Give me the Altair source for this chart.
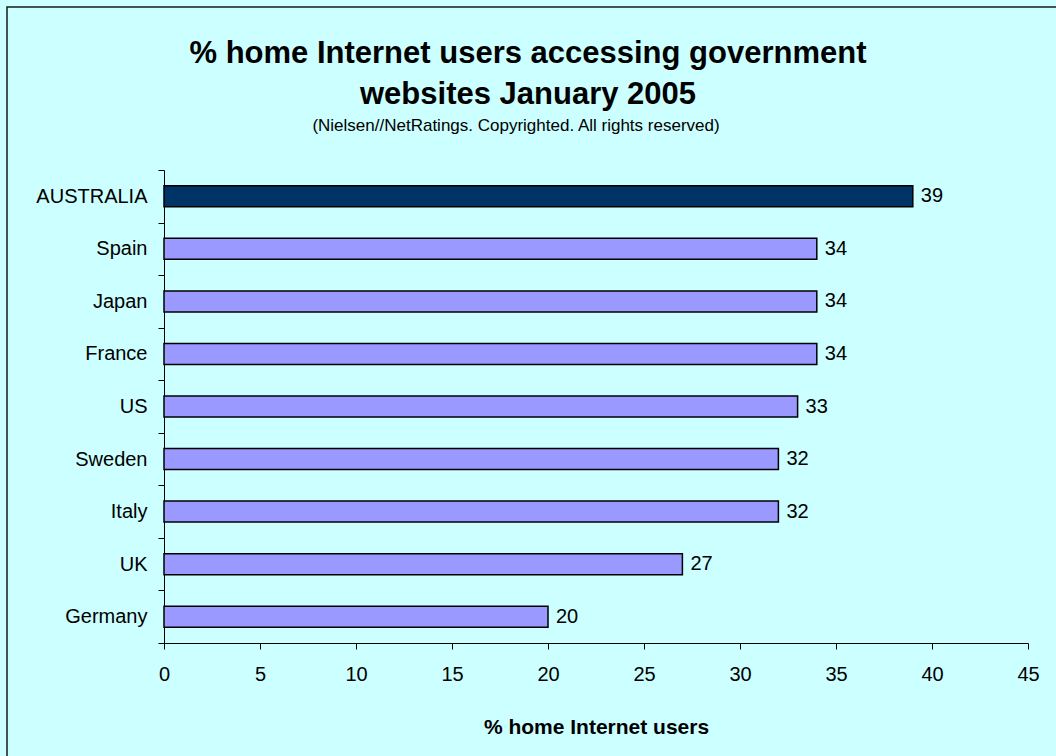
import altair as alt
import pandas as pd

# Share of home Internet users visiting government websites, January 2005
countries = ["AUSTRALIA", "Spain", "Japan", "France", "US", "Sweden", "Italy", "UK", "Germany"]
shares = [39, 34, 34, 34, 33, 32, 32, 27, 20]
x_ticks = [0, 5, 10, 15, 20, 25, 30, 35, 40, 45]

title_lines = ["% home Internet users accessing government", "websites January 2005"]
subtitle_text = "(Nielsen//NetRatings. Copyrighted. All rights reserved)"
x_title = "% home Internet users"

df = pd.DataFrame({"country": countries, "share": shares})

FONT = "Liberation Sans"
W, H = 864, 473
PAD_L, PAD_T = 164, 170
CENTER_X = 528 - PAD_L  # chart-wide centre, in plot coordinates

y_enc = alt.Y(
    "country:N",
    sort=countries,
    title=None,
    scale=alt.Scale(paddingInner=0, paddingOuter=0),
    axis=alt.Axis(
        tickBand="extent",
        tickSize=6,
        labelPadding=11,
        labelFontSize=20,
        labelFont=FONT,
        labelColor="#000000",
        domainColor="#000000",
        tickColor="#000000",
        grid=False,
    ),
)
x_enc = alt.X(
    "share:Q",
    title=x_title,
    scale=alt.Scale(domain=[0, 45], nice=False),
    axis=alt.Axis(
        values=x_ticks,
        tickSize=6,
        labelPadding=15,
        labelFlush=False,
        labelOverlap=False,
        labelFontSize=20,
        labelFont=FONT,
        labelColor="#000000",
        domainColor="#000000",
        tickColor="#000000",
        grid=False,
        titleFont=FONT,
        titleFontSize=21,
        titleFontWeight="bold",
        titleColor="#000000",
        titlePadding=32,
    ),
)

bars = alt.Chart(df).mark_bar(
    stroke="#000000", strokeWidth=1.5, height=alt.RelativeBandSize(0.4)
).encode(
    x=x_enc,
    y=y_enc,
    color=alt.condition(
        alt.datum.country == "AUSTRALIA", alt.value("#003366"), alt.value("#9999FF")
    ),
)

labels = alt.Chart(df).mark_text(
    align="left", baseline="middle", dx=8, fontSize=20, font=FONT, color="#000000"
).encode(
    x="share:Q",
    y=alt.Y("country:N", sort=countries),
    text="share:Q",
)

one = alt.Data(values=[{"k": 1}])

# heading lines above the plot
head1 = alt.Chart(one).mark_text(
    align="center", baseline="alphabetic", font=FONT, fontSize=31, fontWeight="bold", color="#000000"
).encode(x=alt.value(CENTER_X), y=alt.value(63 - PAD_T), text=alt.value(title_lines[0]))

head2 = alt.Chart(one).mark_text(
    align="center", baseline="alphabetic", font=FONT, fontSize=31, fontWeight="bold", color="#000000"
).encode(x=alt.value(CENTER_X), y=alt.value(104 - PAD_T), text=alt.value(title_lines[1]))

sub = alt.Chart(one).mark_text(
    align="center", baseline="alphabetic", font=FONT, fontSize=17, color="#000000"
).encode(x=alt.value(516 - PAD_L), y=alt.value(131 - PAD_T), text=alt.value(subtitle_text))

# frame drawn around the whole chart area
frame = alt.Chart(one).mark_rect(
    fill=None, stroke="#1a1a1a", strokeWidth=1.5
).encode(
    x=alt.value(7 - PAD_L),
    x2=alt.value(2000),
    y=alt.value(7 - PAD_T),
    y2=alt.value(2000),
)

chart = alt.layer(bars, labels, head1, head2, sub, frame).properties(
    width=W,
    height=H,
    autosize=alt.AutoSizeParams(type="none"),
    padding={"left": PAD_L, "top": PAD_T, "right": 1056 - PAD_L - W, "bottom": 756 - PAD_T - H},
    background="#CCFFFF",
).configure_view(strokeWidth=0)

chart.save("out.html", embed_options={"renderer": "svg", "actions": False})
